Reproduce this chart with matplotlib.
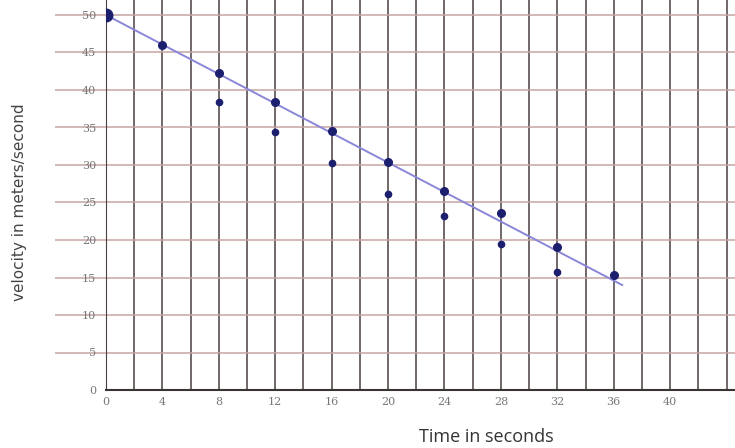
import matplotlib
matplotlib.use("Agg")
import matplotlib.pyplot as plt
import numpy as np

# measured velocities (upper series lies on the fitted line)
time_upper = [0, 4, 8, 12, 16, 20, 24, 28, 32, 36]
vel_upper = [50, 46, 42.2, 38.4, 34.5, 30.4, 26.5, 23.6, 19.1, 15.4]
time_lower = [8, 12, 16, 20, 24, 28, 32]
vel_lower = [38.4, 34.4, 30.2, 26.1, 23.2, 19.5, 15.7]

# best fit line drawn on the paper
fit_t = [0, 36.6]
fit_v = [50, 14]

x_ticks = [0, 4, 8, 12, 16, 20, 24, 28, 32, 36, 40]
y_ticks = [0, 5, 10, 15, 20, 25, 30, 35, 40, 45, 50]

fig = plt.figure(figsize=(7.35, 4.48), dpi=100)
ax = fig.add_axes([106 / 735, 58 / 448, 1 - 106 / 735, 1 - 58 / 448])
ax.set_xlim(0, 44.6)
ax.set_ylim(0, 52)

# graph paper: dark verticals every 2 s, reddish horizontals every 5 m/s
for t in np.arange(0, 45, 2):
    ax.axvline(t, color="#4a4040", lw=1.1, zorder=1)
ax.hlines(y_ticks[1:], -3.6, 44.6, color="#c8a4a4", lw=1.1, zorder=1, clip_on=False)

ax.plot(fit_t, fit_v, color="#8a86d8", lw=1.4, zorder=2)
ax.plot(time_upper, vel_upper, "o", color="#1c1f6e", ms=5.5, zorder=3)
ax.plot(time_upper[:1], vel_upper[:1], "o", color="#1c1f6e", ms=9, zorder=3)
ax.plot(time_lower, vel_lower, "o", color="#1c1f6e", ms=4.5, zorder=3)

for s in ["top", "right"]:
    ax.spines[s].set_visible(False)
ax.spines["left"].set_color("#4a4040")
ax.spines["bottom"].set_color("#3b3232")
ax.spines["bottom"].set_linewidth(1.5)

ax.set_xticks(x_ticks)
ax.set_xticklabels([str(v) for v in x_ticks], family="serif", fontsize=8, color="#777777")
ax.set_yticks(y_ticks)
ax.set_yticklabels([str(v) for v in y_ticks], family="serif", fontsize=8, color="#777777")
ax.tick_params(axis="x", length=0, pad=5)
ax.tick_params(axis="y", length=0, pad=7)

fig.text(20 / 735, 1 - 202 / 448, "velocity in meters/second", rotation=90,
         ha="center", va="center", fontsize=11, color="#444444", family="DejaVu Sans")
fig.text(486 / 735, 1 - 437 / 448, "Time in seconds", ha="center", va="center",
         fontsize=13, color="#333333", family="Open Sans")

fig.savefig("out.png", dpi=100)
